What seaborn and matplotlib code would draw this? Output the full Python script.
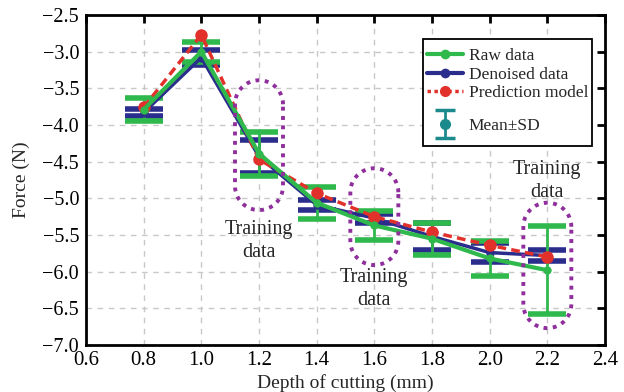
import numpy as np
import pandas as pd
import matplotlib
matplotlib.use("Agg")
import matplotlib.pyplot as plt
import seaborn as sns
from matplotlib.lines import Line2D
from matplotlib.patches import Polygon, Rectangle
from matplotlib.legend_handler import HandlerErrorbar

depth = [0.8, 1.0, 1.2, 1.4, 1.6, 1.8, 2.0, 2.2]
raw_mean = [-3.79, -3.00, -4.39, -5.06, -5.37, -5.55, -5.82, -5.98]
raw_sd = [0.16, 0.135, 0.30, 0.22, 0.20, 0.22, 0.24, 0.60]
den_mean = [-3.83, -3.08, -4.43, -5.09, -5.27, -5.52, -5.74, -5.78]
den_sd = [0.05, 0.10, 0.23, 0.07, 0.06, 0.19, 0.13, 0.07]
pred = [-3.76, -2.77, -4.47, -4.93, -5.25, -5.46, -5.64, -5.80]

train_x = [1.2, 1.6, 2.2]
train_box = [(-3.39, -5.16), (-4.59, -5.91), (-5.06, -6.77)]
train_text_y = [-5.58, -6.24, -4.76]

xticks = [0.6, 0.8, 1.0, 1.2, 1.4, 1.6, 1.8, 2.0, 2.2, 2.4]
yticks = [-2.5, -3.0, -3.5, -4.0, -4.5, -5.0, -5.5, -6.0, -6.5, -7.0]

GREEN = "#2fb84c"
BLUE = "#2b2d8c"
RED = "#e2312b"
PURPLE = "#8e2f9c"
TEAL = "#1b8a8c"

sns.set_style("white")
plt.rcParams['font.family'] = ['Liberation Serif', 'DejaVu Serif']
plt.rcParams['font.size'] = 14

df = pd.DataFrame({"depth": depth, "raw": raw_mean, "den": den_mean, "pred": pred})

W, H = 624, 392
fig = plt.figure(figsize=(W/100, H/100), dpi=100)
ax = fig.add_axes([86/W, 1-345/H, (605-86)/W, (345-15)/H])
ax.set_xlim(0.6, 2.4)
ax.set_ylim(-7.0, -2.5)

# error bars
ax.errorbar(depth, den_mean, yerr=den_sd, fmt="none", ecolor=BLUE, elinewidth=2,
            capsize=14, capthick=4, zorder=3)
ax.errorbar(depth, raw_mean, yerr=raw_sd, fmt="none", ecolor=GREEN, elinewidth=2,
            capsize=14, capthick=4, zorder=4)

sns.lineplot(data=df, x="depth", y="den", ax=ax, color=BLUE, lw=2.5, marker="o",
             markersize=6, markeredgewidth=0, zorder=5, label="_nolegend_")
sns.lineplot(data=df, x="depth", y="pred", ax=ax, color=RED, lw=2.5, linestyle=(0, (2.5, 1.5)),
             marker="o", markersize=9, markeredgewidth=0, zorder=6, label="_nolegend_")
sns.lineplot(data=df, x="depth", y="raw", ax=ax, color=GREEN, lw=3, marker="o",
             markersize=6, markeredgewidth=0, zorder=7, label="_nolegend_")

# training data outlines (stadium shapes)
fig.canvas.draw()
trans = ax.transData
for xc, (ytop, ybot) in zip(train_x, train_box):
    p_top = trans.transform((xc, ytop))
    p_bot = trans.transform((xc, ybot))
    r = 24.0
    cx = p_top[0]
    yt = p_top[1] - r
    yb = p_bot[1] + r
    th1 = np.linspace(0, np.pi, 40)
    th2 = np.linspace(np.pi, 2*np.pi, 40)
    pts = np.concatenate([
        np.column_stack([cx + r*np.cos(th1), yt + r*np.sin(th1)]),
        np.column_stack([cx + r*np.cos(th2), yb + r*np.sin(th2)]),
    ])
    pts_d = trans.inverted().transform(pts)
    ax.add_patch(Polygon(pts_d, closed=True, fill=False, edgecolor=PURPLE, lw=2.8,
                         linestyle=(0, (1, 1.4)), zorder=8))

for xc, ty in zip(train_x, train_text_y):
    ax.text(xc, ty, "Training\ndata", ha="center", va="center", fontsize=14.5,
            linespacing=1.3, zorder=9)

ax.set_xticks(xticks)
ax.set_yticks(yticks)
ax.set_xticklabels([f"{v:.1f}" for v in xticks], fontsize=15)
ax.set_yticklabels([f"\u2212{abs(v):.1f}" for v in yticks], fontsize=14.5)
ax.tick_params(direction="in", length=6, width=2, top=True, right=True,
               pad=4, colors="black")
ax.tick_params(axis="y", pad=5)
ax.grid(True, linestyle=(0, (4, 4)), color="#c8c8c8", lw=1)
for s in ax.spines.values():
    s.set_linewidth(2)
    s.set_color("black")

ax.set_xlabel("Depth of cutting (mm)", fontsize=14, labelpad=3)
ax.set_ylabel("Force (N)", fontsize=14, labelpad=9)

# legend frame
frame = Rectangle((423/W, 1-146/H), 169/W, 107/H, transform=fig.transFigure,
                  facecolor="white", edgecolor="black", lw=1.3, zorder=20, clip_on=False)
ax.add_patch(frame)

h_raw = Line2D([], [], color=GREEN, lw=3, marker="o", markersize=7, markeredgewidth=0)
h_den = Line2D([], [], color=BLUE, lw=3, marker="o", markersize=7, markeredgewidth=0)
h_pred = Line2D([], [], color=RED, lw=2.5, linestyle=(0, (1, 1)), marker="o", markersize=8,
                markeredgewidth=0)
leg1 = ax.legend([h_raw, h_den, h_pred], ["Raw data", "Denoised data", "Prediction model"],
                 loc="upper left", bbox_to_anchor=(427/W, 1-48/H), bbox_transform=fig.transFigure,
                 fontsize=12.5, frameon=False, handlelength=2.1, handletextpad=0.3,
                 borderpad=0, labelspacing=0.14, borderaxespad=0)
leg1.set_zorder(21)
ax.add_artist(leg1)

h_sd = ax.errorbar([np.nan], [np.nan], yerr=[0.1], fmt="o", color=TEAL, ecolor=TEAL,
                   markersize=7, elinewidth=2, capsize=7, capthick=2.5)
leg2 = ax.legend([h_sd], ["Mean\u00b1SD"], loc="center left",
                 bbox_to_anchor=(427/W, 1-126/H), bbox_transform=fig.transFigure,
                 fontsize=12.5, frameon=False, handlelength=2.1, handletextpad=0.3,
                 borderpad=0, borderaxespad=0,
                 handler_map={type(h_sd): HandlerErrorbar(yerr_size=0.8)})
leg2.set_zorder(21)

fig.savefig("out.png", dpi=100)
